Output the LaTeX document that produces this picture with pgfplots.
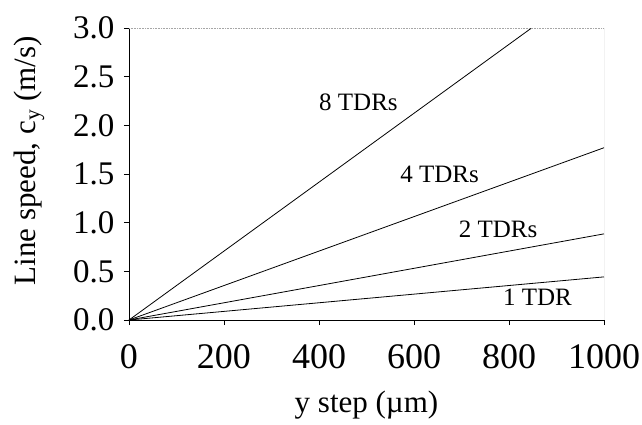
\documentclass[border=0pt]{standalone}
\usepackage{fontspec}
\setmainfont{Liberation Serif}
\usepackage{pgfplots}
\pgfplotsset{compat=1.18}
\begin{document}
\begin{tikzpicture}
\begin{axis}[
  scale only axis,
  width=475pt, height=292pt,
  xmin=0, xmax=1000, ymin=0, ymax=3,
  axis lines*=left,
  axis line style={line width=0.8pt, black},
  xtick={0,200,400,600,800,1000},
  ytick={0,0.5,1,1.5,2,2.5,3},
  tick align=outside,
  major tick length=5pt,
  tick style={line width=0.6pt, black},
  /pgf/number format/assume math mode=true,
  /pgf/number format/1000 sep={},
  yticklabel style={/pgf/number format/.cd, fixed, fixed zerofill, precision=1, /tikz/.cd, font=\fontsize{33}{33}\selectfont, xshift=-6pt},
  xticklabel style={font=\fontsize{36}{36}\selectfont, yshift=-16pt},
  scaled y ticks=false,
  xlabel={y step (\textmu m)},
  ylabel={Line speed, c\textsubscript{y} (m/s)},
  xlabel style={font=\fontsize{31}{31}\selectfont, at={(axis description cs:0.5,-0.29)}, anchor=center},
  ylabel style={font=\fontsize{31}{31}\selectfont, at={(axis description cs:-0.21,0.545)}, anchor=center, rotate=0},
  clip=true,
]
\addplot[black, line width=0.8pt] coordinates {(0,0) (1000,0.443)};
\addplot[black, line width=0.8pt] coordinates {(0,0) (1000,0.885)};
\addplot[black, line width=0.8pt] coordinates {(0,0) (1000,1.77)};
\addplot[black, line width=0.8pt] coordinates {(0,0) (1000,3.54)};
\node[font=\fontsize{25}{25}\selectfont] at (axis cs:483,2.24) {8 TDRs};
\node[font=\fontsize{25}{25}\selectfont] at (axis cs:654,1.50) {4 TDRs};
\node[font=\fontsize{25}{25}\selectfont] at (axis cs:777,0.93) {2 TDRs};
\node[font=\fontsize{25}{25}\selectfont] at (axis cs:860,0.23) {1 TDR};
\draw[gray!70, densely dotted, line width=0.6pt] (rel axis cs:0,1) -- (rel axis cs:1,1);
\draw[gray!80, line width=0.5pt] (rel axis cs:1,1) -- (rel axis cs:1,0);
\end{axis}
\pgfresetboundingbox
\path[use as bounding box] (current axis.origin) ++(-129pt,-104pt) rectangle ++(642pt,424pt);
\end{tikzpicture}
\end{document}
